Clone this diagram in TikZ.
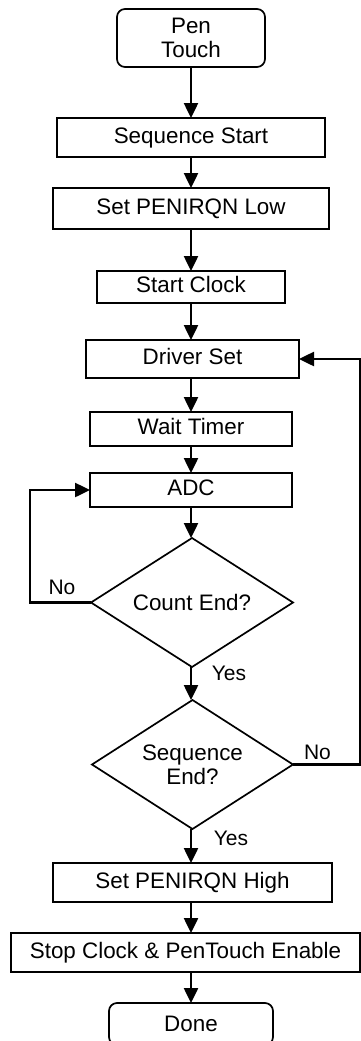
\documentclass[tikz,border=0pt]{standalone}
\usepackage{fontspec}
\setmainfont{Liberation Sans}
\usetikzlibrary{arrows.meta,shapes.geometric}
\begin{document}
\begin{tikzpicture}[x=1pt,y=-1pt,
  every node/.style={font=\fontsize{22.4}{24}\selectfont, inner sep=0pt, outer sep=0pt},
  proc/.style={draw, line width=1.7pt, text height=16pt, text depth=4.5pt},
  term/.style={draw, line width=1.7pt, rounded corners=8pt, align=center},
  decide/.style={draw, line width=1.7pt, diamond, aspect=1.56, align=center},
  lbl/.style={font=\fontsize{21}{24}\selectfont},
  flow/.style={line width=2.5pt, -{Triangle[length=15pt,width=14pt]}}
]
\path[use as bounding box] (0,0) rectangle (361,1041);
\clip (0,0) rectangle (361,1041);
\node[term, minimum width=148pt, minimum height=58pt] (pen) at (191,38) {Pen\\Touch};
\node[proc, minimum width=268pt, minimum height=39pt] (seqstart) at (191,137.5) {Sequence Start};
\node[proc, minimum width=276pt, minimum height=41pt] (setlow) at (191,208.5) {Set PENIRQN Low};
\node[proc, minimum width=188pt, minimum height=32pt] (startclk) at (191,287) {Start Clock};
\node[proc, minimum width=213pt, minimum height=38pt] (driver) at (192.5,359) {Driver Set};
\node[proc, minimum width=202pt, minimum height=34pt] (wait) at (191,429) {Wait Timer};
\node[proc, minimum width=202pt, minimum height=34pt] (adc) at (191,490) {ADC};
\node[decide, minimum width=202pt, minimum height=129pt] (count) at (192,602.5) {Count End?};
\node[decide, minimum width=201pt, minimum height=129pt] (seqend) at (192.5,764.5) {Sequence\\End?};
\node[proc, minimum width=279pt, minimum height=39pt] (high) at (192.5,882.5) {Set PENIRQN High};
\node[proc, minimum width=349pt, minimum height=39pt] (stop) at (185.5,952.5) {Stop Clock \& PenTouch Enable};
\node[term, minimum width=164pt, minimum height=42pt] (done) at (191,1024) {Done};
\coordinate (cl) at (30,602.5);
\coordinate (cr) at (360,764.5);
\node[lbl] (no1) at (62,587) {No};
\node[lbl] (yes1) at (229,673) {Yes};
\node[lbl] (no2) at (317.5,752) {No};
\node[lbl] (yes2) at (231,838) {Yes};
\draw[flow] (pen) -- (pen |- seqstart.north);
\draw[flow] (pen |- seqstart.south) -- (pen |- setlow.north);
\draw[flow] (pen |- setlow.south) -- (pen |- startclk.north);
\draw[flow] (pen |- startclk.south) -- (pen |- driver.north);
\draw[flow] (pen |- driver.south) -- (pen |- wait.north);
\draw[flow] (pen |- wait.south) -- (pen |- adc.north);
\draw[flow] (pen |- adc.south) -- (pen |- count.north);
\draw[flow] (pen |- count.south) -- (pen |- seqend.north);
\draw[flow] (pen |- seqend.south) -- (pen |- high.north);
\draw[flow] (pen |- high.south) -- (pen |- stop.north);
\draw[flow] (pen |- stop.south) -- (done);
\draw[flow] (count.west) -- (cl) |- (adc.west);
\draw[flow] (seqend.east) -- (cr) |- (driver.east);
\end{tikzpicture}
\end{document}
